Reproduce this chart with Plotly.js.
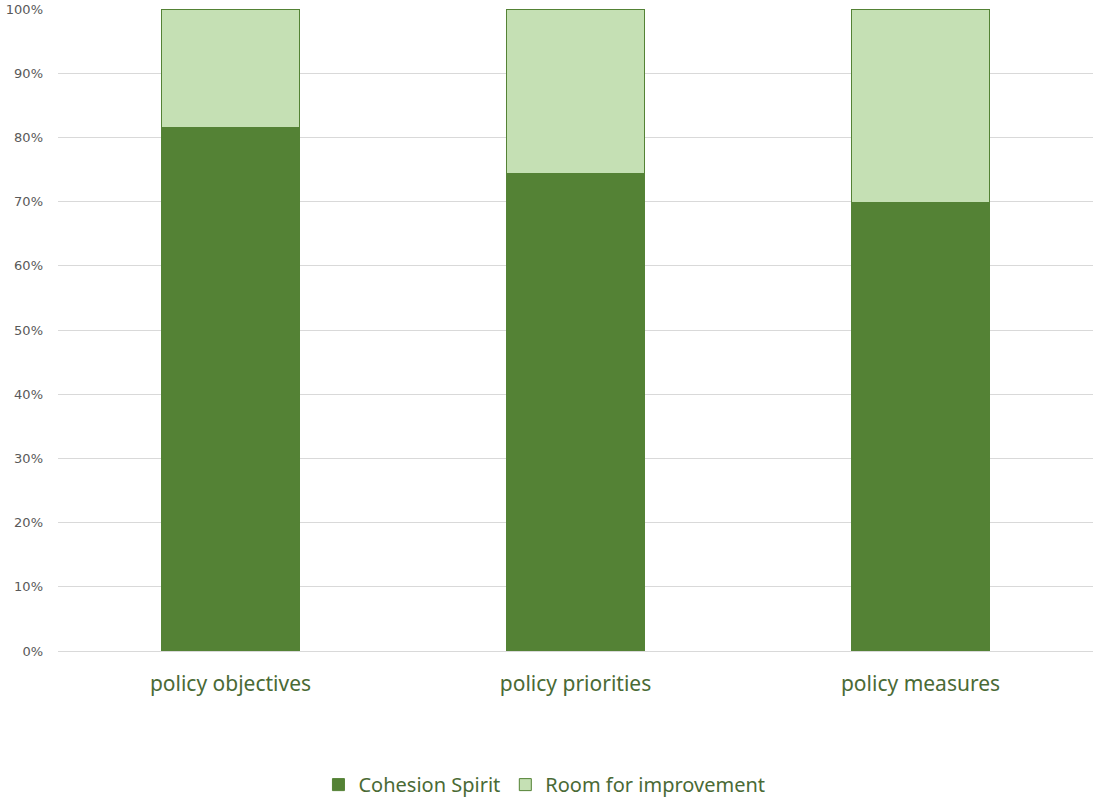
<!DOCTYPE html>
<html>
<head>
<meta charset="utf-8">
<script src="https://cdn.plot.ly/plotly-3.0.1.min.js"></script>
<style>html,body{margin:0;padding:0;background:#fff;}#chart{width:1095px;height:799px;}</style>
</head>
<body>
<div id="chart"></div>
<script>
const categories = ["policy objectives", "policy priorities", "policy measures"];
const cohesionSpirit = [81.5, 74.3, 69.8];
const roomForImprovement = [18.5, 25.7, 30.2];
const yTickVals = [0, 10, 20, 30, 40, 50, 60, 70, 80, 90, 100];
const yTickText = ["0%", "10%", "20%", "30%", "40%", "50%", "60%", "70%", "80%", "90%", "100%"];

const handFont = "'Segoe Print', 'Comic Sans MS', 'Noto Sans', sans-serif";

const data = [
  {
    type: "bar", name: "Cohesion Spirit", x: categories, y: cohesionSpirit,
    marker: {color: "#548235", line: {color: "#548235", width: 1}},
    width: 0.4, hoverinfo: "skip"
  },
  {
    type: "bar", name: "Room for improvement", x: categories, y: roomForImprovement,
    marker: {color: "#C5E0B4", line: {color: "#548235", width: 1}},
    width: 0.4, hoverinfo: "skip"
  }
];

const layout = {
  width: 1095, height: 799,
  margin: {l: 58, r: 2, t: 9, b: 148},
  barmode: "stack",
  paper_bgcolor: "#fff", plot_bgcolor: "#fff",
  showlegend: true,
  legend: {
    orientation: "h", x: 0.47, xanchor: "center",
    yref: "container", y: 0.018, yanchor: "middle",
    font: {family: handFont, size: 20, color: "#4a6a35"},
    traceorder: "normal", itemwidth: 30
  },
  xaxis: {
    type: "category",
    tickfont: {family: handFont, size: 21, color: "#4a6a35"},
    showgrid: false, zeroline: false, showline: false, ticks: "",
    ticklabelstandoff: 18, automargin: false
  },
  yaxis: {
    range: [0, 100], tickvals: yTickVals, ticktext: yTickText,
    tickfont: {family: "'DejaVu Sans', 'Noto Sans', sans-serif", size: 13, color: "#595959"},
    showgrid: true, gridcolor: "#d9d9d9", gridwidth: 1,
    zeroline: true, zerolinecolor: "#d9d9d9", showline: false, ticks: "",
    ticklabelstandoff: 14, automargin: false
  }
};

Plotly.newPlot("chart", data, layout, {displayModeBar: false, staticPlot: true});
</script>
</body>
</html>
